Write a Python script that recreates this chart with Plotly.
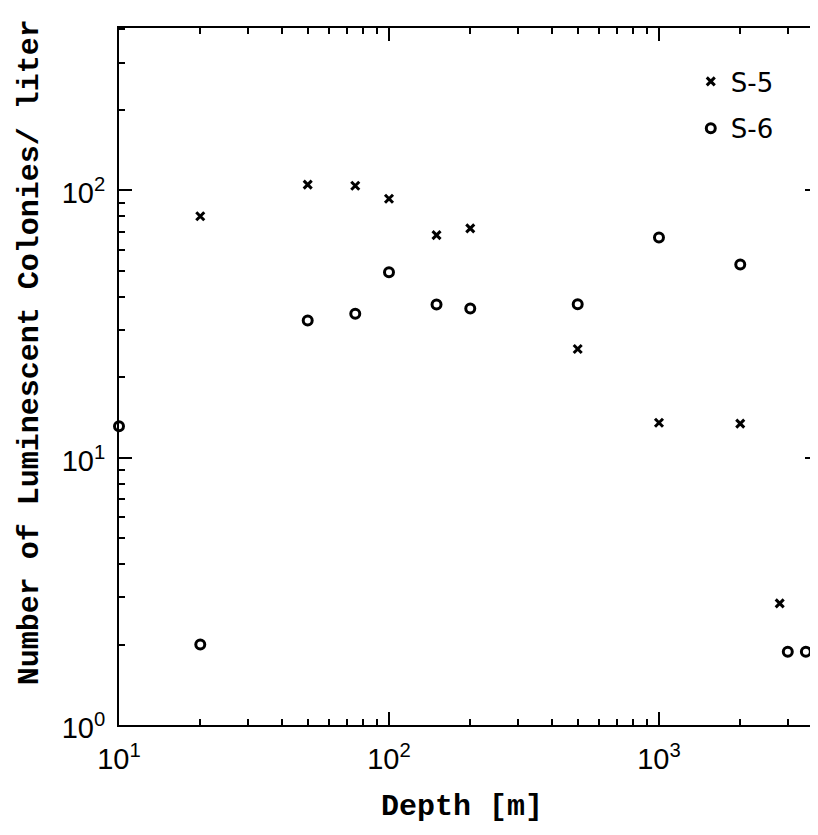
import plotly.graph_objects as go

# S-5 station
s5_depth = [20, 50, 75, 100, 150, 200, 500, 1000, 2000, 2800]
s5_count = [80, 105, 104, 93, 68, 72, 25.5, 13.5, 13.4, 2.85]

# S-6 station
s6_depth = [10, 20, 50, 75, 100, 150, 200, 500, 1000, 2000, 3000, 3500]
s6_count = [13.1, 2.0, 32.6, 34.5, 49.4, 37.4, 36.1, 37.5, 66.6, 52.8, 1.88, 1.88]

x_major = [10, 100, 1000]
x_labels = ["10<sup>1</sup>", "10<sup>2</sup>", "10<sup>3</sup>"]
y_major = [1, 10, 100]
y_labels = ["10<sup>0</sup>", "10<sup>1</sup>", "10<sup>2</sup>"]
x_minor = [d * 10 ** e for e in (1, 2, 3) for d in range(2, 10)]
y_minor = [d * 10 ** e for e in (0, 1, 2) for d in range(2, 10)]

x_title = "Depth [m]"
y_title = "Number of Luminescent Colonies/ liter"

tick_font = dict(family="Liberation Sans Narrow, Liberation Sans, Arial, sans-serif", size=29, color="black")
title_font = dict(family="Liberation Mono, Courier New, monospace", size=30, color="black")

fig = go.Figure()
fig.add_trace(go.Scatter(
    x=s5_depth, y=s5_count, mode="markers", name="S-5", legendgroup="a",
    marker=dict(symbol="x-thin", size=8, line=dict(width=3, color="black"), color="black"),
    cliponaxis=False,
))
fig.add_trace(go.Scatter(
    x=s6_depth, y=s6_count, mode="markers", name="S-6", legendgroup="b",
    marker=dict(symbol="circle-open", size=9, line=dict(width=3, color="black"), color="black"),
    cliponaxis=False,
))

axis_common = dict(
    type="log", tickmode="array",
    showgrid=False, zeroline=False, showline=True, linecolor="black", linewidth=2,
    mirror="allticks", ticks="inside", ticklen=13, tickwidth=2, tickcolor="black",
    tickfont=tick_font, automargin=False,
)

fig.update_xaxes(range=[1, 3.589], tickvals=x_major, ticktext=x_labels, ticklabelstandoff=7,
                 minor=dict(tickmode="array", tickvals=x_minor, ticks="inside", ticklen=6,
                            tickwidth=2, tickcolor="black", showgrid=False),
                 **axis_common)
fig.update_yaxes(range=[0, 2.607], tickvals=y_major, ticktext=y_labels, ticklabelstandoff=6,
                 ticklabelshift=3,
                 minor=dict(tickmode="array", tickvals=y_minor, ticks="inside", ticklen=6,
                            tickwidth=2, tickcolor="black", showgrid=False),
                 **axis_common)

fig.add_annotation(text="<b>" + x_title + "</b>", xref="paper", yref="paper", x=0.49, y=-0.117,
                   showarrow=False, font=title_font, xanchor="center", yanchor="middle")
fig.add_annotation(text="<b>" + y_title + "</b>", xref="paper", yref="paper", x=-0.127, y=0.535,
                   showarrow=False, font=title_font, textangle=-90, xanchor="center", yanchor="middle")

fig.update_layout(
    width=810, height=827,
    margin=dict(l=111, r=0, t=20, b=110, autoexpand=False),
    paper_bgcolor="white", plot_bgcolor="white",
    legend=dict(x=0.818, y=0.957, xanchor="left", yanchor="top",
                font=dict(family="DejaVu Sans, sans-serif", size=26, color="black"),
                bgcolor="rgba(0,0,0,0)", tracegroupgap=10, traceorder="grouped"),
)

fig.write_html("out.html")
